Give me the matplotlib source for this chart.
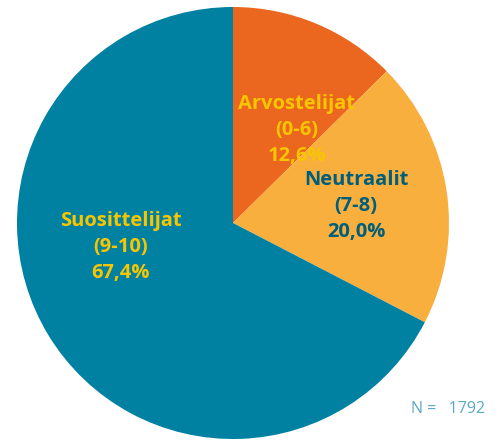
import matplotlib.pyplot as plt

groups = ['Arvostelijat', 'Neutraalit', 'Suosittelijat']
ranges = ['(0-6)', '(7-8)', '(9-10)']
shares = [12.6, 20.0, 67.4]
n_total = 1792

slice_colors = ['#EB661E', '#F9AF3D', '#0081A1']
text_colors = ['#F7C600', '#005E7A', '#F7C600']
label_pos = [(297, 130), (356, 206), (121, 247)]

plt.rcParams['font.family'] = ['Open Sans', 'DejaVu Sans']

fig = plt.figure(figsize=(5.01, 4.41), dpi=100)
ax = fig.add_axes([0, 0, 1, 1])

# y runs downward, so start at -90 and go counterclockwise to get
# a clockwise pie starting at 12 o'clock on screen
ax.pie(shares, colors=slice_colors, startangle=-90, counterclock=True,
       center=(233, 223), radius=216, frame=True,
       wedgeprops=dict(linewidth=0))
ax.set_xlim(0, 501)
ax.set_ylim(441, 0)
ax.set_aspect('auto')
ax.axis('off')

for g, r, s, c, (x, y) in zip(groups, ranges, shares, text_colors, label_pos):
    txt = '%s\n%s\n%s%%' % (g, r, ('%.1f' % s).replace('.', ','))
    ax.text(x, y, txt, ha='center', va='center', color=c, fontsize=14.5,
            fontweight='bold', linespacing=1.39)

ax.text(411, 409, 'N =   %d' % n_total, ha='left', va='center',
        color='#5BA8C4', fontsize=11.5)

plt.savefig('out.png')
